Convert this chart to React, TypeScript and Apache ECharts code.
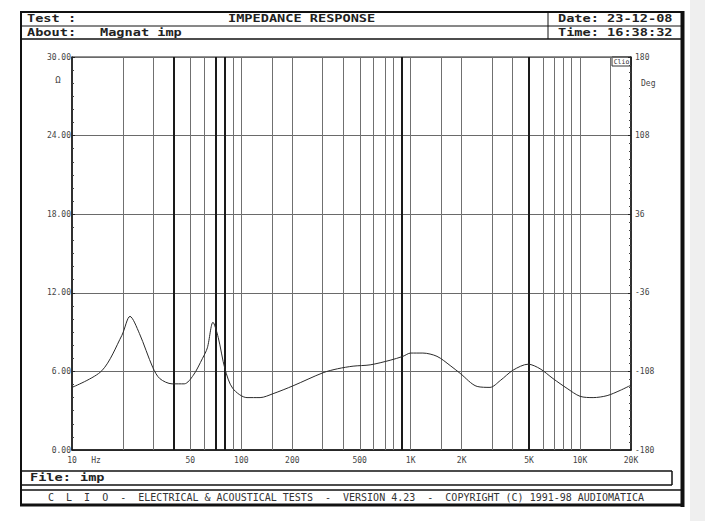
import React, { useEffect, useRef } from "react";
import * as echarts from "echarts";

// Impedance curve (frequency in Hz, modulus in ohm)
const freqHz = [10, 15, 19.7, 22, 25, 30, 33, 39, 46, 52, 59, 63, 68, 73, 80, 89, 108, 129, 154, 202, 304, 370, 457, 576, 756, 900, 1000, 1180, 1430, 1710, 1960, 2470, 2940, 3380, 4030, 4940, 5810, 6930, 8390, 10000, 11950, 14450, 17260, 20000];
const impedance = [4.78, 6.05, 8.75, 10.2, 8.9, 6.3, 5.45, 5.05, 5.05, 5.7, 7.0, 7.8, 9.75, 8.6, 6.2, 4.7, 4.0, 4.0, 4.3, 4.9, 5.9, 6.2, 6.4, 6.5, 6.85, 7.15, 7.4, 7.4, 7.15, 6.45, 5.85, 4.85, 4.78, 5.3, 6.1, 6.55, 6.2, 5.45, 4.7, 4.1, 4.0, 4.15, 4.55, 4.95];

// Frequency axis labels
const labelFreqs = [10, 50, 100, 200, 500, 1000, 2000, 5000, 10000, 20000];
const labelTexts = ["10", "50", "100", "200", "500", "1K", "2K", "5K", "10K", "20K"];

// Vertical grid lines
const gridFreqs = [20, 30, 40, 50, 60, 70, 80, 90, 100, 150, 200, 300, 400, 500, 600, 700, 800, 900, 1000, 1500, 2000, 3000, 4000, 5000, 6000, 7000, 8000, 9000, 10000, 15000];
const thickFreqs = [40, 70, 80, 900, 5000];

// Left axis (ohm) and right axis (deg)
const ohmMin = 0;
const ohmMax = 30;
const ohmStep = 6;
const degLabels = [-180, -108, -36, 36, 108, 180];

const MONO = "'DejaVu Sans Mono', 'Liberation Mono', monospace";

export default function App() {
  const ref = useRef<HTMLDivElement>(null);

  useEffect(() => {
    if (!ref.current) return;
    const chart = echarts.init(ref.current, undefined, { renderer: "svg" });

    const lg = (f: number) => Math.log10(f);
    const curve = freqHz.map((f, i) => [lg(f), impedance[i]]);
    const gridLines = gridFreqs.map((f) => {
      const thick = thickFreqs.includes(f);
      return {
        xAxis: lg(f),
        lineStyle: thick
          ? { color: "#1a1a1a", width: 2, type: "solid" }
          : { color: "#707070", width: 1, type: "solid" },
      };
    });

    const degRange = degLabels[degLabels.length - 1] - degLabels[0];
    const degStep = degLabels[1] - degLabels[0];

    const hdr = (text: string, x: number, y: number) => ({
      type: "text",
      x,
      y,
      scaleX: 1.36,
      silent: true,
      style: {
        text,
        fontFamily: MONO,
        fontWeight: "bold",
        fontSize: 10,
        fill: "#222",
        align: "left",
        verticalAlign: "middle",
      },
    });
    const hline = (x1: number, x2: number, y: number, w: number) => ({
      type: "line",
      silent: true,
      shape: { x1, y1: y, x2, y2: y },
      style: { stroke: "#111", lineWidth: w },
    });
    const vline = (x: number, y1: number, y2: number, w: number) => ({
      type: "line",
      silent: true,
      shape: { x1: x, y1, x2: x, y2 },
      style: { stroke: "#111", lineWidth: w },
    });

    const option: any = {
      animation: false,
      backgroundColor: "#ffffff",
      grid: {
        left: 72,
        right: 74,
        top: 57,
        bottom: 71,
        show: true,
        borderColor: "#222",
        borderWidth: 1,
        backgroundColor: "transparent",
      },
      xAxis: {
        type: "value",
        min: lg(labelFreqs[0]),
        max: lg(labelFreqs[labelFreqs.length - 1]),
        axisLine: { show: true, lineStyle: { color: "#111", width: 1.5 } },
        axisTick: { show: false },
        splitLine: { show: false },
        axisLabel: {
          customValues: labelFreqs.map(lg),
          formatter: (v: number) => {
            let best = 0;
            let bd = Infinity;
            labelFreqs.forEach((f, i) => {
              const d = Math.abs(lg(f) - v);
              if (d < bd) {
                bd = d;
                best = i;
              }
            });
            return labelTexts[best];
          },
          margin: 6,
          fontFamily: MONO,
          fontSize: 8,
          color: "#444",
          hideOverlap: false,
        },
      },
      yAxis: [
        {
          type: "value",
          min: ohmMin,
          max: ohmMax,
          interval: ohmStep,
          position: "left",
          axisLine: { show: true, lineStyle: { color: "#111", width: 1.5 } },
          axisTick: { show: true, inside: true, length: 3, lineStyle: { color: "#222" } },
          minorTick: { show: true, splitNumber: 6, length: 2, lineStyle: { color: "#444" } },
          splitLine: { show: true, lineStyle: { color: "#6a6a6a", width: 1 } },
          axisLabel: {
            formatter: (v: number) => v.toFixed(2),
            margin: 1,
            fontFamily: MONO,
            fontSize: 8,
            color: "#444",
          },
        },
        {
          type: "value",
          min: 0,
          max: degRange,
          interval: degStep,
          position: "right",
          axisLine: { show: true, lineStyle: { color: "#111", width: 1.5 } },
          axisTick: { show: true, inside: true, length: 3, lineStyle: { color: "#222" } },
          minorTick: { show: true, splitNumber: 10, length: 2, lineStyle: { color: "#444" } },
          splitLine: { show: false },
          axisLabel: {
            formatter: (v: number) => String(Math.round(v + degLabels[0])),
            margin: 4,
            fontFamily: MONO,
            fontSize: 8,
            color: "#444",
          },
        },
      ],
      series: [
        {
          type: "line",
          data: [],
          z: 1,
          silent: true,
          markLine: {
            silent: true,
            symbol: ["none", "none"],
            label: { show: false },
            emphasis: { disabled: true },
            data: gridLines,
          },
        },
        {
          type: "line",
          data: curve,
          z: 5,
          smooth: 0.3,
          showSymbol: false,
          symbol: "none",
          lineStyle: { color: "#2a2a2a", width: 1 },
        },
      ],
      graphic: [
        // light gray margin at far right
        {
          type: "rect",
          silent: true,
          shape: { x: 690, y: 0, width: 15, height: 521 },
          style: { fill: "#efefef" },
        },
        // outer frame
        hline(20, 684, 12, 2),
        vline(21, 11, 506, 2),
        vline(682.5, 11, 507, 4),
        hline(20, 684, 505, 3),
        // header rows
        hline(20, 684, 26, 1),
        hline(20, 684, 39, 1.5),
        vline(548, 12, 39, 1),
        hdr("Test :", 27, 19),
        hdr("IMPEDANCE RESPONSE", 228, 19),
        hdr("About:", 27, 32.5),
        hdr("Magnat imp", 100, 32.5),
        hdr("Date: 23-12-08", 558, 19),
        hdr("Time: 16:38:32", 558, 32.5),
        // file row
        hline(20, 672, 471, 1.5),
        hline(20, 672, 485, 1.5),
        vline(672, 471, 485, 1.5),
        hdr("File:", 30, 478),
        hdr("imp", 80, 478),
        // footer band
        hline(20, 684, 490, 1.5),
        {
          type: "text",
          x: 48,
          y: 497.5,
          silent: true,
          style: {
            text: "C  L  I  O  -  ELECTRICAL & ACOUSTICAL TESTS  -  VERSION 4.23  -  COPYRIGHT (C) 1991-98 AUDIOMATICA",
            fontFamily: MONO,
            fontSize: 10,
            fill: "#333",
            align: "left",
            verticalAlign: "middle",
          },
        },
        // unit labels
        {
          type: "text",
          x: 58,
          y: 80,
          silent: true,
          style: { text: "Ω", fontFamily: MONO, fontSize: 9, fill: "#444", align: "center", verticalAlign: "middle" },
        },
        {
          type: "text",
          x: 641,
          y: 83,
          silent: true,
          style: { text: "Deg", fontFamily: MONO, fontSize: 8, fill: "#444", align: "left", verticalAlign: "middle" },
        },
        {
          type: "text",
          x: 96,
          y: 460,
          silent: true,
          style: { text: "Hz", fontFamily: MONO, fontSize: 8, fill: "#444", align: "center", verticalAlign: "middle" },
        },
        // Clio badge
        {
          type: "rect",
          silent: true,
          shape: { x: 612, y: 57, width: 19, height: 9 },
          style: { fill: "#fff", stroke: "#333", lineWidth: 1 },
        },
        {
          type: "text",
          x: 621.5,
          y: 61.5,
          silent: true,
          style: { text: "Clio", fontFamily: MONO, fontSize: 6.5, fill: "#333", align: "center", verticalAlign: "middle" },
        },
      ],
    };

    chart.setOption(option);
    return () => chart.dispose();
  }, []);

  return (
    <div
      ref={ref}
      style={{ position: "fixed", left: 0, top: 0, width: 705, height: 521, background: "#fff" }}
    />
  );
}
